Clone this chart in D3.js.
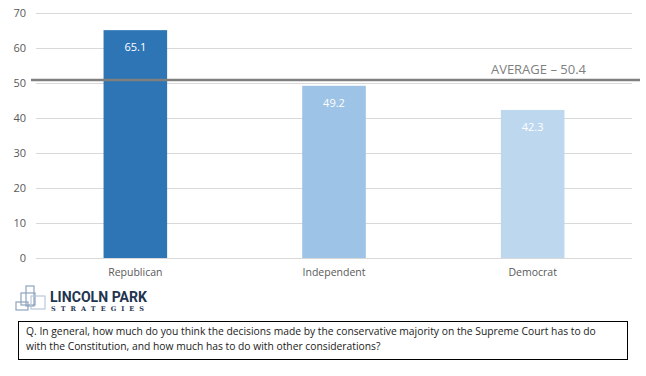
<!DOCTYPE html>
<html>
<head>
<meta charset="utf-8">
<script src="https://cdn.jsdelivr.net/npm/d3@7"></script>
<style>
  body { margin: 0; background: #fff; }
  text { font-family: "Open Sans", "Liberation Sans", sans-serif; }
</style>
</head>
<body>
<div id="chart"></div>
<script>
const categories = ["Republican", "Independent", "Democrat"];
const values = [65.1, 49.2, 42.3];
const colors = ["#2E75B6", "#9DC3E6", "#BDD7EE"];
const yTicks = [0, 10, 20, 30, 40, 50, 60, 70];
const average = 50.4;
const averageLabel = "AVERAGE \u2013 50.4";
const questionLines = [
  "Q. In general, how much do you think the decisions made by the conservative majority on the Supreme Court  has to do",
  "with the Constitution, and how much has to do with other considerations?"
];

const W = 646, H = 376;
const plot = { left: 36, right: 632, top: 13, bottom: 258 };

const svg = d3.select("#chart").append("svg")
  .attr("width", W)
  .attr("height", H);

// Scales
const x = d3.scaleBand()
  .domain(categories)
  .range([plot.left, plot.right])
  .paddingInner(0.68)
  .paddingOuter(0.34);

const y = d3.scaleLinear()
  .domain([0, 70])
  .range([plot.bottom, plot.top]);

// Gridlines + y labels
const yAxis = svg.append("g")
  .attr("transform", `translate(${plot.left},0)`)
  .call(d3.axisLeft(y).tickValues(yTicks).tickSize(-(plot.right - plot.left)).tickPadding(10));
yAxis.select(".domain").remove();
yAxis.selectAll("line").attr("stroke", "#d9d9d9").attr("stroke-width", 1);
yAxis.selectAll("text")
  .attr("fill", "#595959")
  .style("font-size", "11px");

// Bars
svg.selectAll(".bar")
  .data(values)
  .enter()
  .append("rect")
  .attr("class", "bar")
  .attr("x", (d, i) => x(categories[i]))
  .attr("y", d => y(d))
  .attr("width", x.bandwidth())
  .attr("height", d => y(0) - y(d))
  .attr("fill", (d, i) => colors[i]);

// Value labels
svg.selectAll(".val")
  .data(values)
  .enter()
  .append("text")
  .attr("class", "val")
  .attr("x", (d, i) => x(categories[i]) + x.bandwidth() / 2)
  .attr("y", d => y(d) + 21)
  .attr("text-anchor", "middle")
  .attr("fill", "#fff")
  .style("font-size", "11px")
  .text(d => d.toFixed(1));

// Category labels
svg.selectAll(".cat")
  .data(categories)
  .enter()
  .append("text")
  .attr("class", "cat")
  .attr("x", d => x(d) + x.bandwidth() / 2)
  .attr("y", plot.bottom + 18)
  .attr("text-anchor", "middle")
  .attr("fill", "#595959")
  .style("font-size", "10.5px")
  .text(d => d);

// Average line
svg.append("line")
  .attr("x1", 31)
  .attr("x2", 640)
  .attr("y1", y(average) - 1.5)
  .attr("y2", y(average) - 1.5)
  .attr("stroke", "#7f7f7f")
  .attr("stroke-width", 2.5);

svg.append("text")
  .attr("x", 586)
  .attr("y", y(average) - 8)
  .attr("text-anchor", "end")
  .attr("fill", "#7f7f7f")
  .style("font-size", "13px")
  .text(averageLabel);

// Logo
const logo = svg.append("g").attr("fill", "none").attr("stroke", "#8ea3bf").attr("stroke-width", 1.2);
logo.append("rect").attr("x", 26).attr("y", 286).attr("width", 8).attr("height", 20);
logo.append("rect").attr("x", 21).attr("y", 293).attr("width", 14).attr("height", 12);
logo.append("rect").attr("x", 16).attr("y", 302).attr("width", 12).attr("height", 8);
logo.append("rect").attr("x", 31).attr("y", 296).attr("width", 14).attr("height", 13).attr("stroke", "#b9c7da");

svg.append("text")
  .attr("x", 50)
  .attr("y", 302)
  .attr("fill", "#1f3550")
  .style("font-family", "'Liberation Sans Narrow', 'Roboto', sans-serif")
  .style("font-weight", "bold")
  .style("font-size", "15px")
  .attr("textLength", 97)
  .attr("lengthAdjust", "spacingAndGlyphs")
  .text("LINCOLN PARK");

svg.append("text")
  .attr("x", 51)
  .attr("y", 311)
  .attr("fill", "#1f3550")
  .style("font-family", "'DejaVu Serif', serif")
  .style("font-weight", "bold")
  .style("font-size", "6.5px")
  .attr("textLength", 93)
  .text("STRATEGIES");

// Question box
svg.append("rect")
  .attr("x", 18.5)
  .attr("y", 321.5)
  .attr("width", 609)
  .attr("height", 38)
  .attr("fill", "#fff")
  .attr("stroke", "#000")
  .attr("stroke-width", 1);

svg.selectAll(".q")
  .data(questionLines)
  .enter()
  .append("text")
  .attr("class", "q")
  .attr("x", 26)
  .attr("y", (d, i) => 335 + i * 15)
  .attr("fill", "#1a1a1a")
  .style("font-size", "10.3px")
  .text(d => d);
</script>
</body>
</html>
